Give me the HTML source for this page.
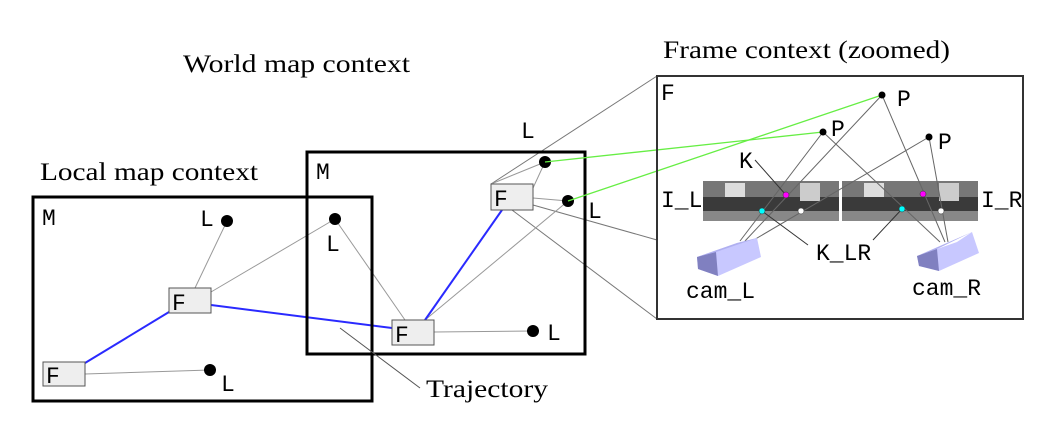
<!DOCTYPE html>
<html><head><meta charset="utf-8"><style>
body{margin:0;background:#fff}
svg{display:block}
.s{font-family:"Liberation Serif",serif;font-size:25px}
.m{font-family:"Liberation Mono",monospace;font-size:23px}
</style></head><body>
<svg width="1058" height="436" viewBox="0 0 1058 436">
<text class="s" x="183" y="72" textLength="227" lengthAdjust="spacingAndGlyphs">World map context</text>
<text class="s" x="40" y="180" textLength="218" lengthAdjust="spacingAndGlyphs">Local map context</text>
<text class="s" x="663" y="58" textLength="287" lengthAdjust="spacingAndGlyphs">Frame context (zoomed)</text>
<g stroke="#777" stroke-width="1" fill="none">
<line x1="491" y1="184" x2="657" y2="76"/><line x1="512" y1="210" x2="657" y2="319"/><line x1="533" y1="205" x2="657" y2="240"/>
</g>
<g stroke="#999" stroke-width="1">
<line x1="85" y1="374" x2="210" y2="370"/><line x1="195" y1="288" x2="227" y2="221"/><line x1="211" y1="292" x2="335" y2="219"/>
<line x1="405" y1="320" x2="335" y2="219"/><line x1="434" y1="332" x2="533" y2="331"/><line x1="533" y1="188" x2="545" y2="162"/>
<line x1="533" y1="198" x2="568" y2="201"/><line x1="425" y1="320" x2="568" y2="201"/><line x1="491" y1="184" x2="545" y2="162"/>
</g>
<g stroke="#2a2aff" stroke-width="2">
<line x1="85" y1="363" x2="169" y2="312"/><line x1="211" y1="305" x2="392" y2="328"/><line x1="425" y1="320" x2="502" y2="210"/>
</g>
<rect x="33" y="197" width="339" height="204" fill="none" stroke="#000" stroke-width="3"/>
<rect x="307" y="152" width="278" height="202" fill="none" stroke="#000" stroke-width="3"/>
<text class="m" x="42" y="225">M</text>
<text class="m" x="316" y="179">M</text>
<g>
<g fill="#eee" stroke="#555"><rect x="43" y="362" width="42" height="24"/><rect x="169" y="288" width="42" height="25"/><rect x="392" y="320" width="42" height="25"/><rect x="491" y="184" width="42" height="26"/></g>
<g class="m"><text x="46" y="383">F</text><text x="172" y="310">F</text><text x="395" y="342">F</text><text x="494" y="206">F</text></g>
</g>
<g fill="#000">
<circle cx="227" cy="221" r="6"/><circle cx="335" cy="219" r="6"/><circle cx="210" cy="370" r="6"/><circle cx="533" cy="331" r="6"/><circle cx="545" cy="162" r="6"/><circle cx="568" cy="201" r="6"/>
<g class="m"><text x="200" y="226">L</text><text x="326" y="251">L</text><text x="221" y="391">L</text><text x="547" y="340">L</text><text x="521" y="138">L</text><text x="588" y="218">L</text></g>
</g>
<line x1="420" y1="388" x2="340" y2="328" stroke="#555"/>
<text class="s" x="426" y="397" textLength="122" lengthAdjust="spacingAndGlyphs">Trajectory</text>
<g stroke="#66ee44" stroke-width="1.3">
<line x1="545" y1="162" x2="823" y2="132"/><line x1="568" y1="201" x2="882" y2="95"/>
</g>
<rect x="657" y="76" width="366" height="243" fill="none" stroke="#333" stroke-width="2"/>
<text class="m" x="661" y="100">F</text>
<g>
<rect x="703" y="181" width="136" height="40" fill="#3a3a3a"/><rect x="842" y="181" width="136" height="40" fill="#3a3a3a"/>
<rect x="703" y="181" width="136" height="16" fill="#777"/><rect x="842" y="181" width="136" height="16" fill="#777"/>
<rect x="725" y="183" width="20" height="14" fill="#ddd"/><rect x="864" y="183" width="20" height="14" fill="#ddd"/>
<rect x="800" y="183" width="20" height="18" fill="#ccc"/><rect x="939" y="183" width="20" height="18" fill="#ccc"/>
<rect x="703" y="211" width="136" height="10" fill="#888"/><rect x="842" y="211" width="136" height="10" fill="#888"/>
</g>
<g stroke="#666" stroke-width="1">
<line x1="740" y1="241" x2="823" y2="132"/><line x1="745" y1="241" x2="882" y2="95"/><line x1="752" y1="241" x2="929" y2="137"/>
<line x1="940" y1="242" x2="823" y2="132"/><line x1="945" y1="242" x2="882" y2="95"/><line x1="948" y1="242" x2="929" y2="137"/>
<line x1="755" y1="160" x2="786" y2="195" stroke="#333"/><line x1="808" y1="245" x2="762" y2="211" stroke="#333"/><line x1="873" y1="240" x2="902" y2="209" stroke="#333"/>
</g>
<g stroke="#333" stroke-width="0.5">
<circle cx="786" cy="195" r="3" fill="#f0f"/><circle cx="762" cy="211" r="3" fill="#0ff"/><circle cx="801" cy="211" r="3" fill="#fff"/>
<circle cx="923" cy="194" r="3" fill="#f0f"/><circle cx="902" cy="209" r="3" fill="#0ff"/><circle cx="941" cy="211" r="3" fill="#fff"/>
</g>
<g fill="#000">
<circle cx="882" cy="95" r="3.5"/><circle cx="823" cy="132" r="3.5"/><circle cx="929" cy="137" r="3.5"/>
<g class="m"><text x="897" y="106">P</text><text x="831" y="136">P</text><text x="938" y="149">P</text></g>
</g>
<g>
<polygon points="697,257 737,243 757,238 761,257 718,276 698,269" fill="#c8c8ff"/><polygon points="697,257 737,243 757,238 716,252" fill="#b0b0f0"/><polygon points="697,257 716,252 718,276 698,269" fill="#8080c0"/>
<polygon points="917,256 957,242 972,232 979,253 939,271 919,266" fill="#c8c8ff"/><polygon points="917,256 972,232 937,249" fill="#b0b0f0"/><polygon points="917,256 937,249 939,271 919,266" fill="#8080c0"/>
</g>
<g class="m">
<text x="739" y="168">K</text><text x="661" y="207">I_L</text><text x="981" y="207">I_R</text><text x="816" y="260">K_LR</text><text x="686" y="298">cam_L</text><text x="912" y="295">cam_R</text>
</g>
</svg>
</body></html>
